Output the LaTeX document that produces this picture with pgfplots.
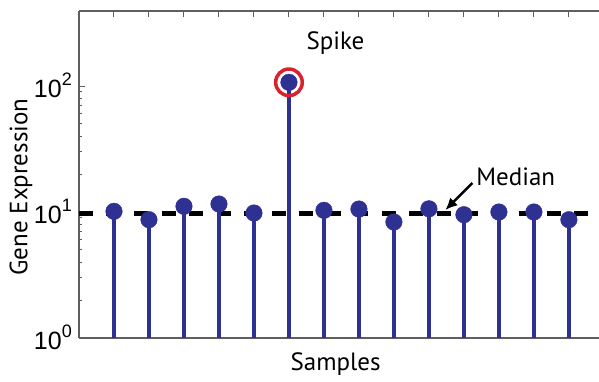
\documentclass[border=0pt]{standalone}
\usepackage{pgfplots}
\pgfplotsset{compat=1.18}
\usetikzlibrary{arrows.meta}
\usepackage{fontspec}
\setmainfont{PT Sans}
\newfontfamily\tickfont{Liberation Sans}
\definecolor{stemblue}{RGB}{46,49,146}
\definecolor{ringred}{RGB}{215,35,45}
\definecolor{axgray}{RGB}{95,95,95}
\newcommand{\tl}[1]{{\tickfont\fontsize{25}{25}\selectfont 10\raisebox{12pt}{\fontsize{18}{18}\selectfont #1}}}
\newcommand{\bigfont}{\fontsize{25}{30}\selectfont}

\begin{document}
\begin{tikzpicture}
\begin{axis}[name=ax, scale only axis, width=520pt, height=327pt,
  xmin=0, xmax=14.86, ymode=log, ymin=1, ymax=394,
  axis x line*=box, axis y line*=left,
  axis line style={axgray, line width=1.1pt},
  every tick/.style={axgray, line width=1pt},
  xtick={1,...,15}, xticklabels={},
  ytick={1,10,100}, yticklabels={\tl{0},\tl{1},\tl{2}},
  tick align=inside, major tick length=6pt, minor tick length=3.5pt,
  yticklabel style={anchor=base east, inner sep=0pt, xshift=-7pt, yshift=-11pt},
  xlabel={Samples}, ylabel={Gene Expression},
  xlabel style={at={(axis description cs:0.4935,-0.0795)}, anchor=center, font=\bigfont},
  ylabel style={at={(axis description cs:-0.1115,0.462)}, anchor=center, font=\bigfont},
  clip marker paths=true,
]
\addplot[black, line width=5pt, dash pattern=on 14pt off 13.5pt, forget plot] coordinates {(0,9.8) (15,9.8)};
\addplot[ycomb, stemblue, line width=4pt, mark=*, mark size=8.3pt, mark options={line width=0.4pt, fill=stemblue}] coordinates {
(1,10.13) (2,8.69) (3,11.1) (4,11.57) (5,9.82) (6,107) (7,10.31) (8,10.56)
(9,8.33) (10,10.6) (11,9.52) (12,10.0) (13,10.0) (14,8.69) (15,9.6)};
\addplot[only marks, mark=o, mark size=13.3pt, ringred, mark options={line width=3.5pt}] coordinates {(6,107)};
\node[font=\bigfont] at (axis cs:7.33,219.4) {Spike};
\node[font=\bigfont, anchor=west, inner sep=0pt] at (axis cs:11.35,18.96) {Median};
\draw[-{Latex[length=12pt,width=11pt]}, line width=2.5pt] (axis cs:11.24,17.0) -- (axis cs:10.47,10.37);
\end{axis}
\pgfresetboundingbox
\path ([shift={(-79pt,-43pt)}]ax.south west) rectangle ([shift={(0pt,11pt)}]ax.north east);
\end{tikzpicture}
\end{document}
